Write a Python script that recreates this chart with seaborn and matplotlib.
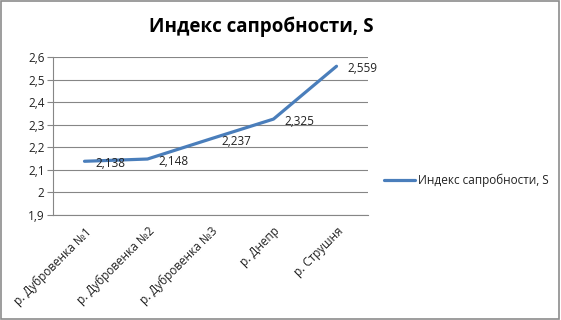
import matplotlib
matplotlib.use("Agg")
import matplotlib.pyplot as plt
import seaborn as sns
import pandas as pd
import numpy as np
from matplotlib.patches import Rectangle

categories = ["р. Дубровенка №1", "р. Дубровенка №2", "р. Дубровенка №3", "р. Днепр", "р. Струшня"]
values = [2.138, 2.148, 2.237, 2.325, 2.559]
series_name = "Индекс сапробности, S"
yticks = [1.9, 2.0, 2.1, 2.2, 2.3, 2.4, 2.5, 2.6]
ytick_labels = ["1,9", "2", "2,1", "2,2", "2,3", "2,4", "2,5", "2,6"]

sns.set_theme(style="white")
plt.rcParams['font.family'] = ['Open Sans', 'DejaVu Sans']

df = pd.DataFrame({"pos": np.arange(len(categories)), "val": values, "series": series_name})

fig = plt.figure(figsize=(5.61, 3.2), dpi=100)
ax = fig.add_axes([53/561, 1 - 215/320, (368-53)/561, (215-57)/320])

sns.lineplot(data=df, x="pos", y="val", hue="series", palette=["#4A7EBB"],
             linewidth=2.3, ax=ax, legend=True)

fs = 8.5
ax.set_xlim(-0.5, len(categories) - 0.5)
ax.set_ylim(1.9, 2.6)
ax.set_yticks(yticks)
ax.set_yticklabels(ytick_labels, fontsize=fs, color="#222222")
ax.set_xticks(np.arange(len(categories)))
ax.set_xticklabels(categories, rotation=45, ha="right", rotation_mode="anchor", fontsize=fs, color="#222222")
ax.set_xticks(np.arange(-0.5, len(categories)), minor=True)
ax.tick_params(axis="x", which="major", length=0, pad=7)
ax.tick_params(axis="x", which="minor", length=4, color="#868686", width=0.8, direction="out")
ax.tick_params(axis="y", length=4, color="#868686", width=0.8, direction="out", left=True, pad=2)
ax.set_xlabel("")
ax.set_ylabel("")
ax.grid(axis="y", color="#868686", linewidth=0.8)
ax.set_axisbelow(True)
for s in ["top", "right"]:
    ax.spines[s].set_visible(False)
for s in ["left", "bottom"]:
    ax.spines[s].set_color("#868686")
    ax.spines[s].set_linewidth(0.8)

for x, v in zip(df["pos"], values):
    ax.annotate(f"{v:.3f}".replace(".", ","), (x, v), xytext=(8, -1.5), textcoords="offset points",
                ha="left", va="center", fontsize=fs, color="#222222")

leg = ax.legend(loc="center left", bbox_to_anchor=((384 - 53) / 315, 0.22), frameon=False,
                fontsize=fs, handlelength=2.6, handletextpad=0.25, borderaxespad=0, borderpad=0)
for t in leg.get_texts():
    t.set_color("#222222")

fig.text(261/561, 1 - 27/320, "Индекс сапробности, S", ha="center", va="center",
         fontsize=13.5, fontweight="bold", color="black")

fig.patches.append(Rectangle((0.002, 0.003), 0.995, 0.993, transform=fig.transFigure,
                             fill=False, edgecolor="#8C8C8C", linewidth=1.2))

fig.savefig("out.png", dpi=100)
